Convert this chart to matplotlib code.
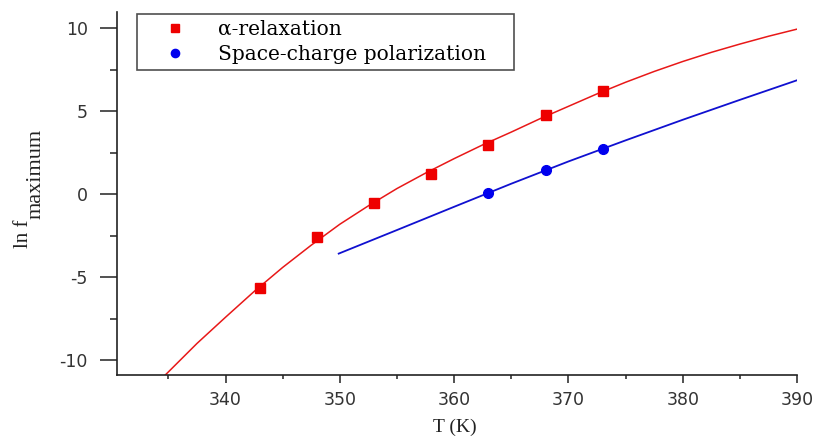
import matplotlib
matplotlib.use("Agg")
import matplotlib.pyplot as plt

plt.rcParams["axes.unicode_minus"] = False

# data points
alpha_T = [343, 348, 353, 358, 363, 368, 373]
alpha_lnf = [-5.66, -2.57, -0.52, 1.20, 2.95, 4.80, 6.23]
sc_T = [363, 368, 373]
sc_lnf = [0.08, 1.45, 2.73]

# fit curves
alpha_fit_T = [334.7, 337.5, 340, 342.5, 345, 347.5, 350, 352.5, 355, 357.5, 360, 362.5,
               365, 367.5, 370, 372.5, 375, 377.5, 380, 382.5, 385, 387.5, 390]
alpha_fit_lnf = [-10.9, -8.98, -7.40, -5.85, -4.40, -3.06, -1.80, -0.69, 0.35, 1.28, 2.15, 2.98,
                 3.75, 4.55, 5.30, 6.05, 6.75, 7.40, 8.00, 8.55, 9.05, 9.52, 9.95]
sc_fit_T = [349.9, 355, 360, 365, 370, 375, 380, 385, 390]
sc_fit_lnf = [-3.57, -2.15, -0.75, 0.64, 1.98, 3.25, 4.49, 5.69, 6.87]

labels = ["\u03b1-relaxation", "Space-charge polarization"]
xticks = [340, 350, 360, 370, 380, 390]
yticks = [-10, -5, 0, 5, 10]

W, H = 821, 440
fig = plt.figure(figsize=(W / 100, H / 100), dpi=100)
ax = fig.add_axes([117 / W, 1 - 375.3 / H, (797 - 117) / W, (375.3 - 11.7) / H])

ax.plot(alpha_fit_T, alpha_fit_lnf, color="#e81818", lw=1.1, zorder=2)
ax.plot(sc_fit_T, sc_fit_lnf, color="#1010d0", lw=1.3, zorder=2)
ax.plot(alpha_T, alpha_lnf, "s", color="#ee0000", ms=7.5, mec="#ee0000", label=labels[0], zorder=3)
ax.plot(sc_T, sc_lnf, "o", color="#0000ee", ms=7, mec="#0000ee", label=labels[1], zorder=3)

ax.set_xlim(330.5, 390)
ax.set_ylim(-10.9, 11.0)
ax.set_xticks(xticks)
ax.set_yticks(yticks)
ax.set_xticks([335, 345, 355, 365, 375, 385], minor=True)
ax.set_yticks([-7.5, -2.5, 2.5, 7.5], minor=True)

for s in ["top", "right"]:
    ax.spines[s].set_visible(False)
for s in ["left", "bottom"]:
    ax.spines[s].set_color("#222222")
    ax.spines[s].set_linewidth(1.2)

ax.tick_params(axis="y", which="major", direction="out", length=12, width=1.1,
               color="#222222", labelsize=12.5, labelcolor="#333333", pad=9)
ax.tick_params(axis="y", which="minor", direction="out", length=5, width=1.1, color="#222222")
ax.tick_params(axis="x", which="major", direction="out", length=6, width=1.1,
               color="#222222", labelsize=12.5, labelcolor="#333333", pad=5)
ax.tick_params(axis="x", which="minor", direction="out", length=3, width=1.1, color="#222222")

# axis labels
fig.text(455 / W, 1 - 427 / H, "T (K)", family="Liberation Serif", fontsize=14,
         ha="center", va="center", color="#222222")
fig.text(28 / W, 1 - 248 / H, "ln f", family="Liberation Serif", fontsize=15,
         rotation=90, rotation_mode="anchor", ha="left", va="baseline", color="#222222")
fig.text(41 / W, 1 - 219 / H, "maximum", family="Liberation Serif", fontsize=16,
         rotation=90, rotation_mode="anchor", ha="left", va="baseline", color="#222222")

# legend
bx0 = (137 - 117) / 680
by1 = (375.3 - 14) / 363.6
bw = (514 - 137) / 680
bh = (65 - 14) / 363.6
leg = ax.legend(loc="upper left", bbox_to_anchor=(bx0, by1 - bh, bw, bh), mode="expand",
                frameon=True, fancybox=False, edgecolor="#222222",
                prop={"family": "DejaVu Serif", "size": 14.5},
                handlelength=3.2, handletextpad=0.5, borderpad=0.3, labelspacing=0.28,
                borderaxespad=0, markerscale=0.85, numpoints=1)
leg.get_frame().set_linewidth(1.2)

fig.savefig("out.png", dpi=100)
